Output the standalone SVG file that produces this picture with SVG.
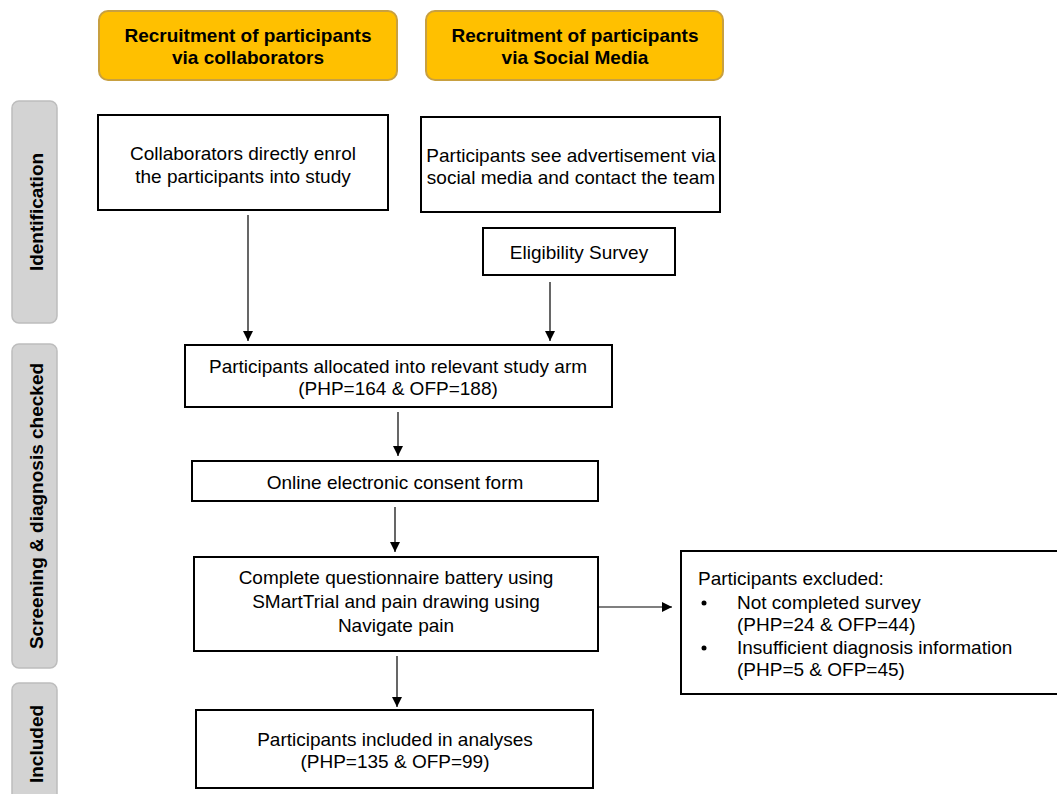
<svg xmlns="http://www.w3.org/2000/svg" width="1057" height="794" viewBox="0 0 1057 794">
<defs>
<style>
.t{font-family:"Liberation Sans",Arial,sans-serif;font-size:19px;fill:#000;text-anchor:middle}
.tl{font-family:"Liberation Sans",Arial,sans-serif;font-size:19px;fill:#000}
.b{font-family:"Liberation Sans",Arial,sans-serif;font-size:19px;font-weight:bold;fill:#000;text-anchor:middle}
.box{fill:#fff;stroke:#000;stroke-width:2}
.or{fill:#FFC000;stroke:#C8A040;stroke-width:2}
.gr{fill:#D3D3D3;stroke:#BDBDBD;stroke-width:1.5}
.ln{stroke:#000;stroke-width:1.2;fill:none;marker-end:url(#ah)}
</style>
<marker id="ah" viewBox="0 0 10 10" refX="10" refY="5" markerWidth="10" markerHeight="10" markerUnits="userSpaceOnUse" orient="auto">
<path d="M0,0 L10,5 L0,10 z" fill="#000"/>
</marker>
</defs>
<rect width="1057" height="794" fill="#fff"/>
<g id="head1"><rect class="or" x="99" y="11" width="298" height="69" rx="9"/><text class="b" x="248" y="42">Recruitment of participants</text><text class="b" x="248" y="64">via collaborators</text></g>
<g id="head2"><rect class="or" x="426" y="11" width="297" height="69" rx="9"/><text class="b" x="575" y="42">Recruitment of participants</text><text class="b" x="575" y="64">via Social Media</text></g>
<g id="side1"><rect class="gr" x="12" y="101" width="45" height="222" rx="7"/><text class="b" transform="translate(43,212) rotate(-90)">Identification</text></g>
<g id="side2"><rect class="gr" x="12" y="344" width="45" height="324" rx="7"/><text class="b" transform="translate(43,506) rotate(-90)">Screening &amp; diagnosis checked</text></g>
<g id="side3"><rect class="gr" x="12" y="683" width="45" height="125" rx="7"/><text class="b" transform="translate(43,744) rotate(-90)">Included</text></g>
<g id="n1"><rect class="box" x="98" y="115" width="290" height="95"/><text class="t" x="243" y="160">Collaborators directly enrol</text><text class="t" x="243" y="183">the participants into study</text></g>
<g id="n2"><rect class="box" x="421" y="117" width="299" height="95"/><text class="t" x="571" y="162">Participants see advertisement via</text><text class="t" x="571" y="184">social media and contact the team</text></g>
<g id="n3"><rect class="box" x="483" y="228" width="192" height="47"/><text class="t" x="579" y="259">Eligibility Survey</text></g>
<g id="n4"><rect class="box" x="185" y="345" width="427" height="62"/><text class="t" x="398" y="373">Participants allocated into relevant study arm</text><text class="t" x="398" y="395">(PHP=164 &amp; OFP=188)</text></g>
<g id="n5"><rect class="box" x="192" y="461" width="406" height="40"/><text class="t" x="395" y="489">Online electronic consent form</text></g>
<g id="n6"><rect class="box" x="194" y="557" width="404" height="94"/><text class="t" x="396" y="584">Complete questionnaire battery using</text><text class="t" x="396" y="608">SMartTrial and pain drawing using</text><text class="t" x="396" y="632">Navigate pain</text></g>
<g id="n7"><rect class="box" x="681" y="551" width="380" height="143"/>
<text class="tl" x="698" y="585">Participants excluded:</text>
<circle cx="704" cy="603" r="2.5" fill="#000"/><text class="tl" x="737" y="609">Not completed survey</text>
<text class="tl" x="737" y="631">(PHP=24 &amp; OFP=44)</text>
<circle cx="704" cy="648" r="2.5" fill="#000"/><text class="tl" x="737" y="654">Insufficient diagnosis information</text>
<text class="tl" x="737" y="676">(PHP=5 &amp; OFP=45)</text></g>
<g id="n8"><rect class="box" x="196" y="710" width="397" height="78"/><text class="t" x="395" y="746">Participants included in analyses</text><text class="t" x="395" y="768">(PHP=135 &amp; OFP=99)</text></g>
<g id="connectors">
<line class="ln" x1="248" y1="215" x2="248" y2="341"/>
<line class="ln" x1="550" y1="282" x2="550" y2="341"/>
<line class="ln" x1="398" y1="412" x2="398" y2="456"/>
<line class="ln" x1="395" y1="507" x2="395" y2="552"/>
<line class="ln" x1="599" y1="607" x2="672" y2="607"/>
<line class="ln" x1="397" y1="656" x2="397" y2="707"/>
</g>
</svg>
